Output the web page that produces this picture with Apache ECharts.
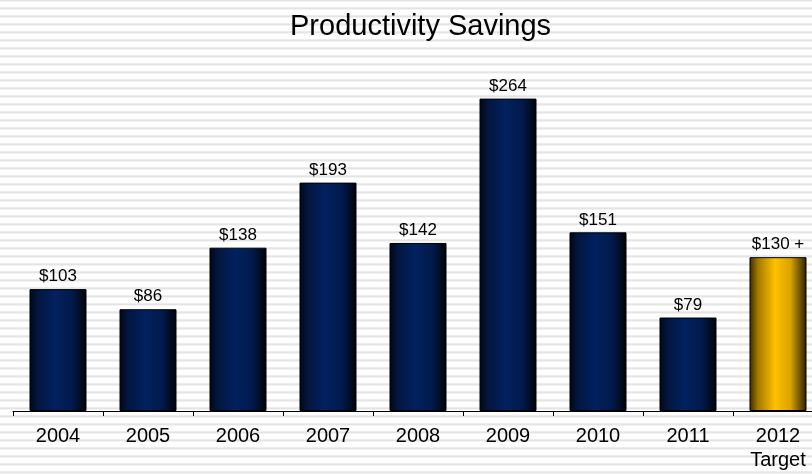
<!DOCTYPE html>
<html>
<head>
<meta charset="utf-8">
<script src="https://cdn.jsdelivr.net/npm/echarts@6/dist/echarts.min.js"></script>
<style>
  html, body { margin: 0; padding: 0; }
  body {
    width: 812px; height: 474px; overflow: hidden;
    background: repeating-linear-gradient(to bottom,
      #e4e4e4 0px, #e4e4e4 1px,
      #f3f3f3 1px, #f3f3f3 2px,
      #ffffff 2px, #ffffff 7px,
      #ececec 7px, #ececec 8px);
  }
  /* the plot runs a little past the right edge of the page */
  #chart { width: 823px; height: 474px; }
</style>
</head>
<body>
<div id="chart"></div>
<script>
// Annual productivity savings ($), last year is the target
const years = ['2004', '2005', '2006', '2007', '2008', '2009', '2010', '2011', '2012'];
const savings = [103, 86, 138, 193, 142, 264, 151, 79, 130];
const targetIndex = 8;
const targetNote = 'Target';
const targetSuffix = ' +';

const FONT = '"Liberation Sans", Arial, sans-serif';

const navyFill = new echarts.graphic.LinearGradient(0, 0, 1, 0, [
  { offset: 0, color: '#010816' },
  { offset: 0.15, color: '#03163f' },
  { offset: 0.45, color: '#022160' },
  { offset: 0.75, color: '#011a4c' },
  { offset: 1, color: '#000205' }
]);
const goldFill = new echarts.graphic.LinearGradient(0, 0, 1, 0, [
  { offset: 0, color: '#3a2b00' },
  { offset: 0.15, color: '#a37a00' },
  { offset: 0.45, color: '#ffc000' },
  { offset: 0.72, color: '#d9a300' },
  { offset: 1, color: '#2a1f00' }
]);

const barData = savings.map((v, i) => ({
  value: v,
  itemStyle: { color: i === targetIndex ? goldFill : navyFill }
}));

const chart = echarts.init(document.getElementById('chart'), null, { renderer: 'canvas' });
chart.setOption({
  backgroundColor: 'transparent',
  animation: false,
  title: {
    text: 'Productivity Savings',
    left: 285,
    top: 7,
    textStyle: { fontFamily: FONT, fontSize: 29, fontWeight: 'normal', color: '#000' }
  },
  grid: { left: 13, right: 0, top: 56, bottom: 63, containLabel: false },
  xAxis: {
    type: 'category',
    data: years,
    axisLine: { lineStyle: { color: '#000', width: 1 } },
    axisTick: { show: true, length: 5, lineStyle: { color: '#000' }, alignWithLabel: false },
    axisLabel: {
      fontFamily: FONT, fontSize: 20, color: '#000', margin: 13, lineHeight: 24,
      formatter: (v, i) => i === targetIndex ? v + '\n' + targetNote : v
    }
  },
  yAxis: {
    type: 'value', min: 0, max: 300, show: false,
    splitLine: { show: false }
  },
  series: [{
    type: 'bar',
    data: barData,
    barWidth: 57,
    itemStyle: { borderColor: '#000', borderWidth: 1 },
    label: {
      show: true,
      position: 'top',
      distance: 4,
      fontFamily: FONT, fontSize: 17, color: '#000',
      formatter: p => '$' + p.value + (p.dataIndex === targetIndex ? targetSuffix : '')
    }
  }]
});
</script>
</body>
</html>
